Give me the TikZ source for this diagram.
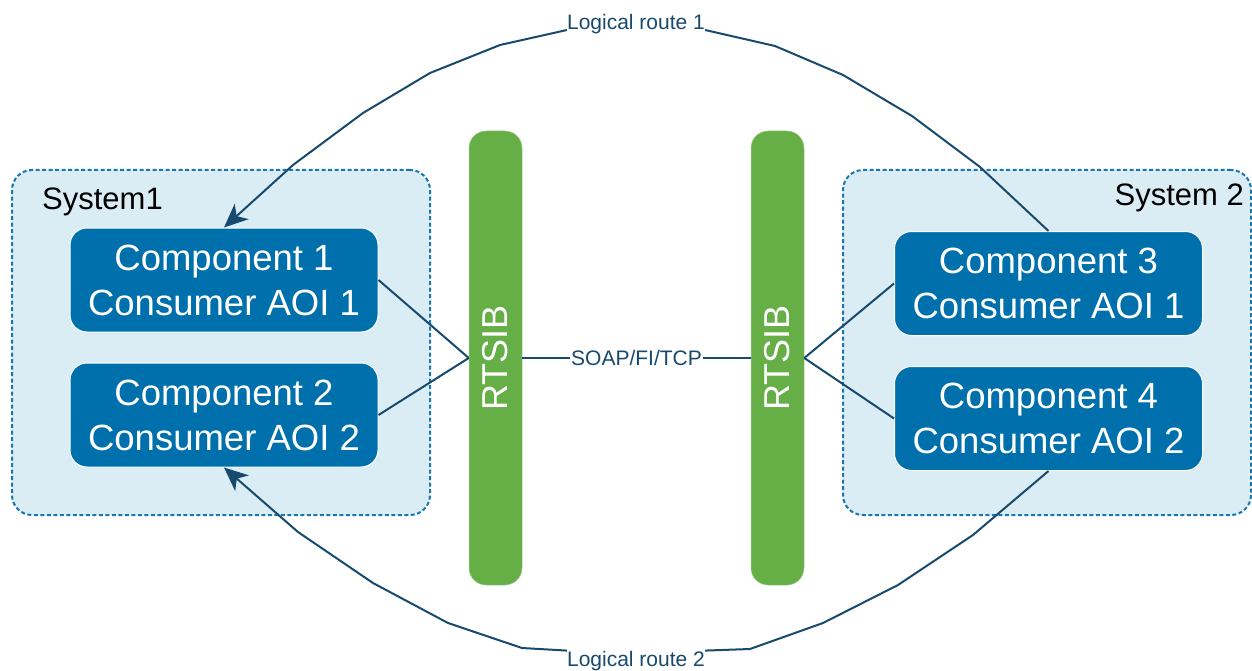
\documentclass[tikz,border=0pt]{standalone}
\usepackage{fontspec}
\setmainfont{Liberation Sans}
\usepackage{graphicx}
\usetikzlibrary{arrows.meta,positioning}
\definecolor{routeblue}{RGB}{23,74,108}
\definecolor{compblue}{RGB}{0,112,173}
\definecolor{sysfill}{RGB}{219,237,244}
\definecolor{sysline}{RGB}{24,118,181}
\definecolor{busgreen}{RGB}{102,174,70}

\tikzset{
  system/.style={draw=sysline, fill=sysfill, line width=2pt,
                 dash pattern=on 4pt off 2.5pt, rounded corners=20pt},
  component/.style={draw=white, line width=1pt, fill=compblue, text=white,
                    rounded corners=17pt, minimum width=308pt, minimum height=104pt,
                    align=center, font=\fontsize{36.5}{45}\selectfont},
  bus/.style={fill=busgreen, draw=busgreen!60!white, line width=0.5pt,
              rounded corners=17pt, minimum width=53pt, minimum height=454pt,
              text=white, font=\fontsize{36}{40}\selectfont, inner sep=0pt},
  route/.style={draw=routeblue, line width=2pt, line join=round},
  routelbl/.style={text=routeblue, font=\fontsize{21}{24}\selectfont, inner sep=0pt},
  syslbl/.style={font=\fontsize{31}{34}\selectfont, inner sep=0pt},
  routehead/.style={-{Stealth[length=24pt,width=21pt,inset=7pt,line width=0pt]}}
}

\begin{document}
\begin{tikzpicture}[x=1pt,y=1pt]
  \useasboundingbox (0,0) rectangle (1252,-671);

  % the two systems
  \node[system, minimum width=418pt, minimum height=345pt] (sys1) at (221,-342.5) {};
  \node[system, minimum width=408pt, minimum height=345pt] (sys2) at (1047,-342.5) {};
  \node[syslbl, anchor=base west] (sys1lbl) at (42,-210) {System1};
  \node[syslbl, anchor=base east] (sys2lbl) at (1244,-205) {System 2};

  % RTSIB buses
  \node[bus] (rtsibL) at (495.5,-358) {\rotatebox{90}{RTSIB}};
  \node[bus] (rtsibR) at (777.5,-358) {\rotatebox{90}{RTSIB}};

  % components
  \node[component] (c1) at (224,-280) {Component 1\\Consumer AOI 1};
  \node[component, below=30pt of c1] (c2) {Component 2\\Consumer AOI 2};
  \node[component] (c3) at (1048.5,-283.5) {Component 3\\Consumer AOI 1};
  \node[component, below=30pt of c3] (c4) {Component 4\\Consumer AOI 2};

  % links to the buses
  \draw[route] (c1.east) -- (rtsibL.west);
  \draw[route] (c2.east) -- (rtsibL.west);
  \draw[route] (c3.west) -- (rtsibR.east);
  \draw[route] (c4.west) -- (rtsibR.east);
  \draw[route] (rtsibL.east) -- node[fill=white, text=routeblue, inner sep=1.5pt,
        font=\fontsize{21}{24}\selectfont] {SOAP/FI/TCP} (rtsibR.west);

  % logical routes
  \node[routelbl, anchor=base] (r1) at (636,-30) {Logical route 1};
  \node[routelbl, anchor=base] (r2) at (636,-666) {Logical route 2};

  \draw[route] (c3.north) -- (980,-167) -- (912,-116) -- (843,-75)
        -- (775,-46) -- (r1.base east);
  \draw[route, routehead] (r1.base west) -- (500,-45) -- (430,-73) -- (363,-113)
        -- (293,-165) -- (c1.north);
  \draw[route] (c4.south) -- (973,-535) -- (898,-585) -- (823,-623)
        -- (750,-649) -- (r2.north east);
  \draw[route, routehead] (r2.north west) -- (522,-648) -- (448,-623) -- (373,-583)
        -- (298,-532) -- (c2.south);
\end{tikzpicture}
\end{document}
